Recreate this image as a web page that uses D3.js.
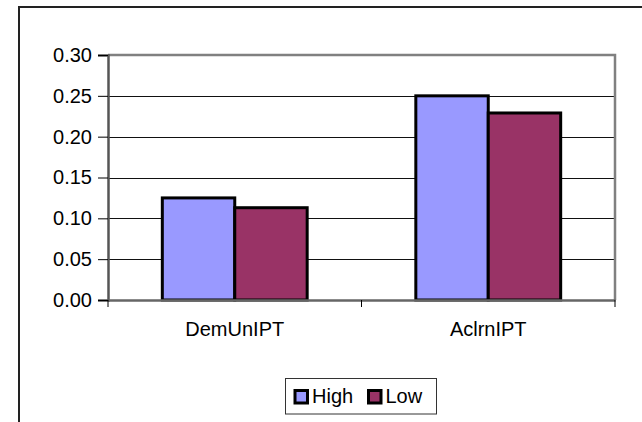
<!DOCTYPE html>
<html><head><meta charset="utf-8">
<script src="https://cdn.jsdelivr.net/npm/d3@7/dist/d3.min.js"></script>
<style>body{margin:0;background:#fff}svg{display:block}text{font-family:Arial,"Liberation Sans",sans-serif;fill:#000}</style>
</head><body><svg id="c" width="642" height="422"></svg>
<script>
const categories = ["DemUnIPT", "AclrnIPT"];
const seriesNames = ["High", "Low"];
const highValues = [0.125, 0.250];
const lowValues = [0.113, 0.229];
const yTicks = [0, 0.05, 0.10, 0.15, 0.20, 0.25, 0.30];
const colors = ["#9999FF", "#993366"];

const svg = d3.select("#c");
const FS = 20;
// outer chart border
svg.append("rect").attr("x", 19).attr("y", 7).attr("width", 700).attr("height", 500)
  .attr("fill", "#fff").attr("stroke", "#222").attr("stroke-width", 2);

const m = {left: 108, right: 615, top: 55, bottom: 300};
const x = d3.scaleBand().domain(categories).range([m.left, m.right]).paddingInner(0).paddingOuter(0);
const y = d3.scaleLinear().domain([0, 0.30]).range([m.bottom, m.top]);

// gridlines
svg.append("g").selectAll("line").data(yTicks.filter(t => t > 0 && t < 0.30)).join("line")
  .attr("x1", m.left).attr("x2", m.right).attr("y1", d => Math.round(y(d)) + 0.5).attr("y2", d => Math.round(y(d)) + 0.5)
  .attr("stroke", "#111").attr("stroke-width", 1);

// plot border (top/right)
svg.append("path").attr("d", `M${m.left},${m.top}H${m.right}V${m.bottom}`)
  .attr("fill", "none").attr("stroke", "#808080").attr("stroke-width", 2.5);

// bars
const series = [highValues, lowValues];
const band = x.bandwidth();
const barW = band / 3.5;
series.forEach((vals, si) => {
  svg.append("g").selectAll("rect").data(categories).join("rect")
    .attr("x", (c) => x(c) + barW * 0.75 + si * barW)
    .attr("y", (c, i) => y(vals[i]))
    .attr("width", barW)
    .attr("height", (c, i) => y(0) - y(vals[i]))
    .attr("fill", colors[si]).attr("stroke", "#000").attr("stroke-width", 3);
});

// y axis
const ya = svg.append("g").attr("transform", `translate(${m.left},0)`)
  .call(d3.axisLeft(y).tickValues(yTicks).tickFormat(d3.format(".2f")).tickSize(10).tickPadding(6));
ya.select(".domain").attr("stroke", "#555").attr("stroke-width", 2.5);
ya.selectAll(".tick line").attr("stroke", "#000");
ya.selectAll("text").style("font-size", FS + "px").attr("fill", "#000");

// x axis
const xa = svg.append("g").attr("transform", `translate(0,${m.bottom})`)
  .call(d3.axisBottom(x).tickSize(0).tickPadding(22));
xa.select(".domain").attr("stroke", "#666").attr("stroke-width", 2.5);
xa.selectAll("text").style("font-size", FS + "px").attr("fill", "#000");
// category boundary ticks
const bounds = [m.left, ...categories.map(c => x(c) + band)];
svg.append("g").selectAll("line").data(bounds).join("line")
  .attr("x1", d => d).attr("x2", d => d).attr("y1", m.bottom).attr("y2", m.bottom + 7)
  .attr("stroke", "#000");

// legend
const lg = svg.append("g");
lg.append("rect").attr("x", 285.5).attr("y", 378.5).attr("width", 151).attr("height", 35.5)
  .attr("fill", "#fff").attr("stroke", "#333").attr("stroke-width", 1);
const lx = [295, 368.5];
seriesNames.forEach((n, i) => {
  lg.append("rect").attr("x", lx[i]).attr("y", 390.5).attr("width", 12.5).attr("height", 12.5)
    .attr("fill", colors[i]).attr("stroke", "#000").attr("stroke-width", 3);
  lg.append("text").attr("x", lx[i] + 17).attr("y", 403).style("font-size", FS + "px").text(n);
});
</script></body></html>
